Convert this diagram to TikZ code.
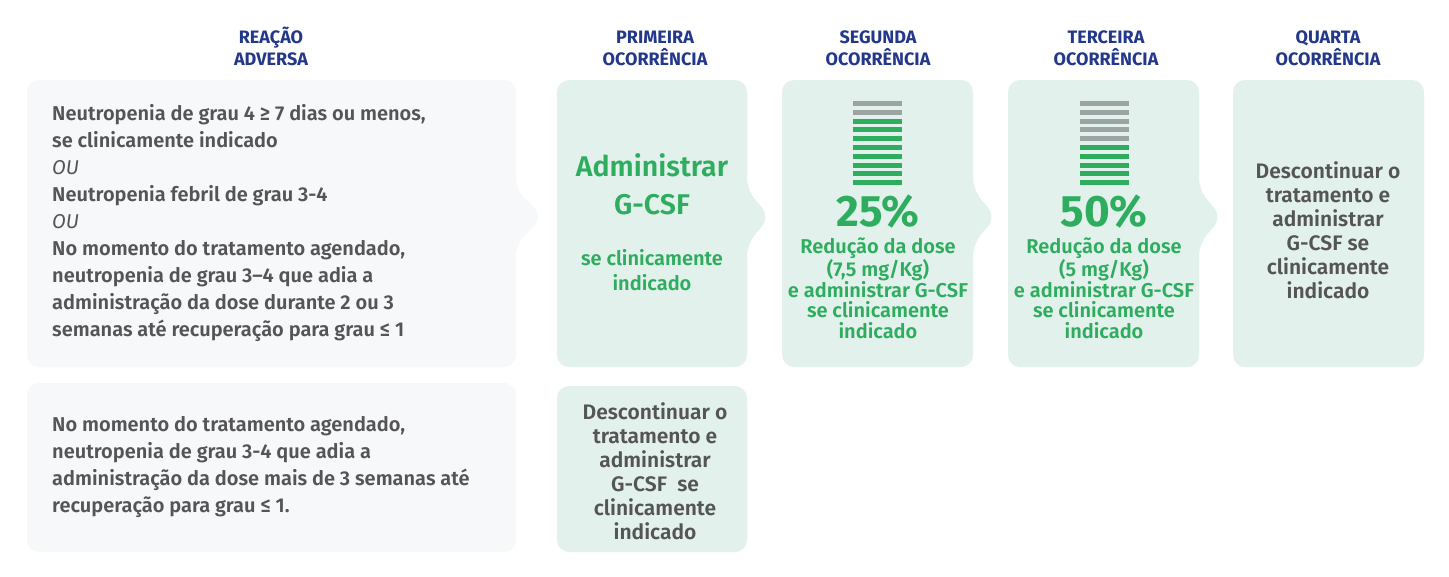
\documentclass[tikz,border=0pt]{standalone}
\usepackage{fontspec}
\setmainfont{Fira Sans}[BoldFont={Fira Sans SemiBold},ItalicFont={Fira Sans Italic}]
\newfontfamily\headfont{Fira Sans Bold}
\begin{document}
\begin{tikzpicture}[x=1pt,y=-1pt,
  lbox/.style={fill=leftc,rounded corners=12pt},
  gbox/.style={fill=greenc,rounded corners=12pt},
  head/.style={text=navy,font=\fontsize{18}{22}\selectfont\headfont,align=center},
  body/.style={text=grayt,font=\fontsize{20}{27}\selectfont\bfseries,align=left,anchor=north west,inner sep=0pt},
  gtext/.style={text=greent,font=\fontsize{20}{20.5}\selectfont\bfseries,align=center},
  bar/.style={line width=5pt}]
\definecolor{leftc}{HTML}{F7F8FA}
\definecolor{greenc}{HTML}{E3F1EC}
\definecolor{navy}{HTML}{23388A}
\definecolor{grayt}{HTML}{555555}
\definecolor{greent}{HTML}{2EAD5F}
\definecolor{barg}{HTML}{9CA3A3}
\useasboundingbox (0,0) rectangle (1449,576);
\fill[white] (0,0) rectangle (1449,576);
% boxes
\fill[lbox] (27,80) -- (516,80) -- (516,190) -- (543,217) -- (516,244) -- (516,367) -- (27,367) -- cycle;
\fill[gbox] (557,80) -- (747,80) -- (747,190) -- (770,217) -- (747,244) -- (747,367) -- (557,367) -- cycle;
\fill[gbox] (782,80) -- (973,80) -- (973,190) -- (996,217) -- (973,244) -- (973,367) -- (782,367) -- cycle;
\fill[gbox] (1008,80) -- (1199,80) -- (1199,190) -- (1222,217) -- (1199,244) -- (1199,367) -- (1008,367) -- cycle;
\fill[gbox] (1233,80) rectangle (1424,367);
\fill[lbox] (27,383) rectangle (516,552);
\fill[gbox] (557,386) rectangle (747,552);
% headings
\node[head] (h0) at (271,46) {REAÇÃO\\ADVERSA};
\node[head] (h1) at (655,48) {PRIMEIRA\\OCORRÊNCIA};
\node[head] (h2) at (878,48) {SEGUNDA\\OCORRÊNCIA};
\node[head] (h3) at (1106,48) {TERCEIRA\\OCORRÊNCIA};
\node[head] (h4) at (1328,48) {QUARTA\\OCORRÊNCIA};
% left texts
\node[body] (t1) at (52,104) {Neutropenia de grau 4 ≥ 7 dias ou menos,\\se clinicamente indicado\\{\mdseries\itshape OU}\\Neutropenia febril de grau 3-4\\{\mdseries\itshape OU}\\No momento do tratamento agendado,\\neutropenia de grau 3–4 que adia a\\administração da dose durante 2 ou 3\\semanas até recuperação para grau ≤ 1};
\node[body] (t2) at (52,416) {No momento do tratamento agendado,\\neutropenia de grau 3-4 que adia a\\administração da dose mais de 3 semanas até\\recuperação para grau ≤ 1.};
% first
\node[gtext,font=\fontsize{28.5}{38}\selectfont\bfseries] (a1) at (652,184) {Administrar\\G-CSF};
\node[gtext,font=\fontsize{20}{25}\selectfont\bfseries] (a2) at (652,270) {se clinicamente\\indicado};
% bars
\foreach \i in {0,...,9}{
  \pgfmathsetmacro\yy{103.5+\i*8.8}
  \ifnum\i<2 \draw[bar,barg] (853,\yy) -- (902,\yy); \else \draw[bar,greent] (853,\yy) -- (902,\yy); \fi
  \ifnum\i<5 \draw[bar,barg] (1080,\yy) -- (1129,\yy); \else \draw[bar,greent] (1080,\yy) -- (1129,\yy); \fi
}
\node[gtext,font=\fontsize{44}{44}\selectfont\headfont] (p2) at (878,212) {25\%};
\node[gtext] (r2) at (878,288) {Redução da dose\\(7,5 mg/Kg)\\e administrar G-CSF\\se clinicamente\\indicado};
\node[gtext,font=\fontsize{44}{44}\selectfont\headfont] (p3) at (1104,212) {50\%};
\node[gtext] (r3) at (1104,288) {Redução da dose\\(5 mg/Kg)\\e administrar G-CSF\\se clinicamente\\indicado};
\node[text=grayt,font=\fontsize{21}{24}\selectfont\bfseries,align=center] (q4) at (1328,230) {Descontinuar o\\tratamento e\\administrar\\G-CSF se\\clinicamente\\indicado};
\node[text=grayt,font=\fontsize{21}{24}\selectfont\bfseries,align=center] (b1) at (655,471) {Descontinuar o\\tratamento e\\administrar\\G-CSF\ \ se\\clinicamente\\indicado};
\end{tikzpicture}
\end{document}
